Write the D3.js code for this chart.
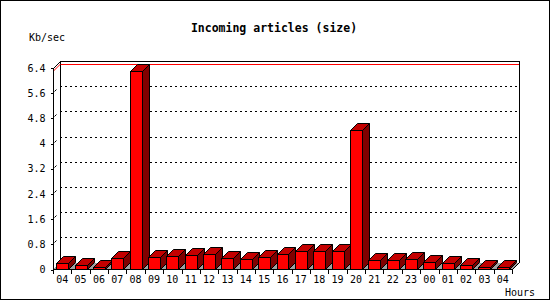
<!DOCTYPE html>
<html><head><meta charset="utf-8">
<script src="https://cdn.jsdelivr.net/npm/d3@7/dist/d3.min.js"></script>
<style>
html,body{margin:0;padding:0;background:#fff;}
svg{display:block;}
text{font-family:"DejaVu Sans Mono",monospace;}
</style></head>
<body>
<svg id="c" width="550" height="300"></svg>
<script>
const hours = ["04","05","06","07","08","09","10","11","12","13","14","15","16","17","18","19","20","21","22","23","00","01","02","03","04"];
const values = [0.20,0.13,0.09,0.36,6.30,0.39,0.42,0.45,0.48,0.36,0.32,0.39,0.48,0.58,0.58,0.58,4.43,0.29,0.29,0.32,0.23,0.20,0.13,0.09,0.09];
const yTicks = [0,0.8,1.6,2.4,3.2,4,4.8,5.6,6.4];
const yTickLabels = ["0","0.8","1.6","2.4","3.2","4","4.8","5.6","6.4"];
const title = "Incoming articles (size)";
const yTitle = "Kb/sec";
const xTitle = "Hours";

const svg = d3.select("#c");
const DX = 7, DY = 7;
const x0 = 53, x1 = 512, yBase = 269.5, yTop = 68;
const y = d3.scaleLinear().domain([0,6.4]).range([yBase, yTop]);
const x = d3.scaleBand().domain(d3.range(hours.length)).range([x0, x1]).paddingInner(0.35).paddingOuter(0.175);
const bound = d3.scaleLinear().domain([0, hours.length]).range([x0, x1]);

// outer border
svg.append("rect").attr("x",0.5).attr("y",0.5).attr("width",549).attr("height",299)
  .attr("fill","#fff").attr("stroke","#000");

// title
svg.append("text").attr("x",274).attr("y",28).attr("text-anchor","middle").attr("dominant-baseline","central")
  .attr("font-size","11.5px").attr("font-weight","bold").text(title);
svg.append("text").attr("x",29).attr("y",37).attr("dominant-baseline","central")
  .attr("font-size","10px").text(yTitle);

const g = svg.append("g").attr("shape-rendering","crispEdges");

// floor
const bx0 = x0 + DX, bx1 = x1 + DX, byTop = yTop - DY, byBase = yBase - DY;
g.append("path").attr("d",`M${x0},${yBase}L${x1},${yBase}L${bx1},${byBase}L${bx0},${byBase}Z`)
  .attr("fill","#a0a0a0");

// back wall grid lines
g.selectAll(".grid").data(yTicks.filter(t=>t>0 && t<6.4)).join("line")
  .attr("x1",bx0).attr("x2",bx1).attr("y1",d=>Math.round(y(d)-DY)+0.5).attr("y2",d=>Math.round(y(d)-DY)+0.5)
  .attr("stroke","#000").attr("stroke-dasharray","2,3");

// back wall frame
g.append("path").attr("d",`M${bx0+0.5},${byBase}L${bx0+0.5},${byTop+0.5}L${bx1+0.5},${byTop+0.5}L${bx1+0.5},${byBase}`)
  .attr("fill","none").attr("stroke","#000");

// max line
const vmax = d3.max(values);
const ym = Math.round(y(vmax));
svg.append("line").attr("x1",bx0+1).attr("x2",bx1).attr("y1",ym-DY+0.5).attr("y2",ym-DY+0.5)
  .attr("stroke","#f00").attr("shape-rendering","crispEdges");
svg.append("line").attr("x1",x0+0.5).attr("y1",ym).attr("x2",bx0+0.5).attr("y2",ym-DY)
  .attr("stroke","#f00").attr("stroke-width",1);

// left side diagonal at top
svg.append("line").attr("x1",x0+0.5).attr("y1",yTop+0.5).attr("x2",bx0+0.5).attr("y2",byTop+0.5)
  .attr("stroke","#000");

// small diagonal tick marks on side wall
svg.selectAll(".sd").data(yTicks.filter(t=>t>0 && t<6.4)).join("line")
  .attr("x1",x0+1.5).attr("x2",x0+3.5).attr("y1",d=>Math.round(y(d))-1.5).attr("y2",d=>Math.round(y(d))-3.5)
  .attr("stroke","#000");

// bars
const w = x.bandwidth();
const bars = svg.append("g").attr("stroke","#000").attr("stroke-width",1).attr("stroke-linejoin","miter");
values.forEach((v,i)=>{
  const bl = Math.round(x(i))+0.5, br = Math.round(x(i)+w)+0.5;
  const yt = Math.round(y(v))+0.5, yb = yBase;
  const gb = bars.append("g");
  gb.append("path").attr("d",`M${bl},${yt}L${bl+DX},${yt-DY}L${br+DX},${yt-DY}L${br},${yt}Z`).attr("fill","#c40000");
  gb.append("path").attr("d",`M${br},${yt}L${br+DX},${yt-DY}L${br+DX},${yb-DY}L${br},${yb}Z`).attr("fill","#800000");
  gb.append("rect").attr("x",bl).attr("y",yt).attr("width",br-bl).attr("height",yb-yt).attr("fill","#ff0000");
});

// y axis
const ya = svg.append("g").attr("transform",`translate(${x0+0.5},0)`)
  .call(d3.axisLeft(y).tickValues(yTicks).tickFormat((d,i)=>yTickLabels[i]).tickSize(3).tickSizeOuter(0));
ya.select(".domain").attr("d",`M0,${yTop}V${yBase}`).attr("stroke","#000").attr("shape-rendering","crispEdges");
ya.selectAll(".tick line").attr("stroke","#000").attr("shape-rendering","crispEdges");
ya.selectAll(".tick text").attr("font-family","DejaVu Sans Mono, monospace").attr("font-size","10px").attr("fill","#000").attr("x",-8);

// x axis
svg.append("line").attr("x1",x0).attr("x2",x1+1).attr("y1",yBase).attr("y2",yBase).attr("stroke","#000").attr("shape-rendering","crispEdges");
svg.append("line").attr("x1",x1+0.5).attr("y1",yBase).attr("x2",bx1+0.5).attr("y2",byBase).attr("stroke","#000");
svg.selectAll(".xt").data(d3.range(hours.length+1)).join("line")
  .attr("x1",d=>Math.round(bound(d))+0.5).attr("x2",d=>Math.round(bound(d))+0.5)
  .attr("y1",yBase).attr("y2",yBase+4).attr("stroke","#000").attr("shape-rendering","crispEdges");
const xa = svg.append("g").attr("transform",`translate(0,${yBase})`)
  .call(d3.axisBottom(x).tickFormat(i=>hours[i]).tickSize(0));
xa.select(".domain").remove();
xa.selectAll(".tick text").attr("font-family","DejaVu Sans Mono, monospace").attr("font-size","10px").attr("fill","#000").attr("dy",0).attr("y",9.5).attr("dominant-baseline","central");

svg.append("text").attr("x",505).attr("y",292.5).attr("dominant-baseline","central")
  .attr("font-size","10px").text(xTitle);
</script>
</body></html>
